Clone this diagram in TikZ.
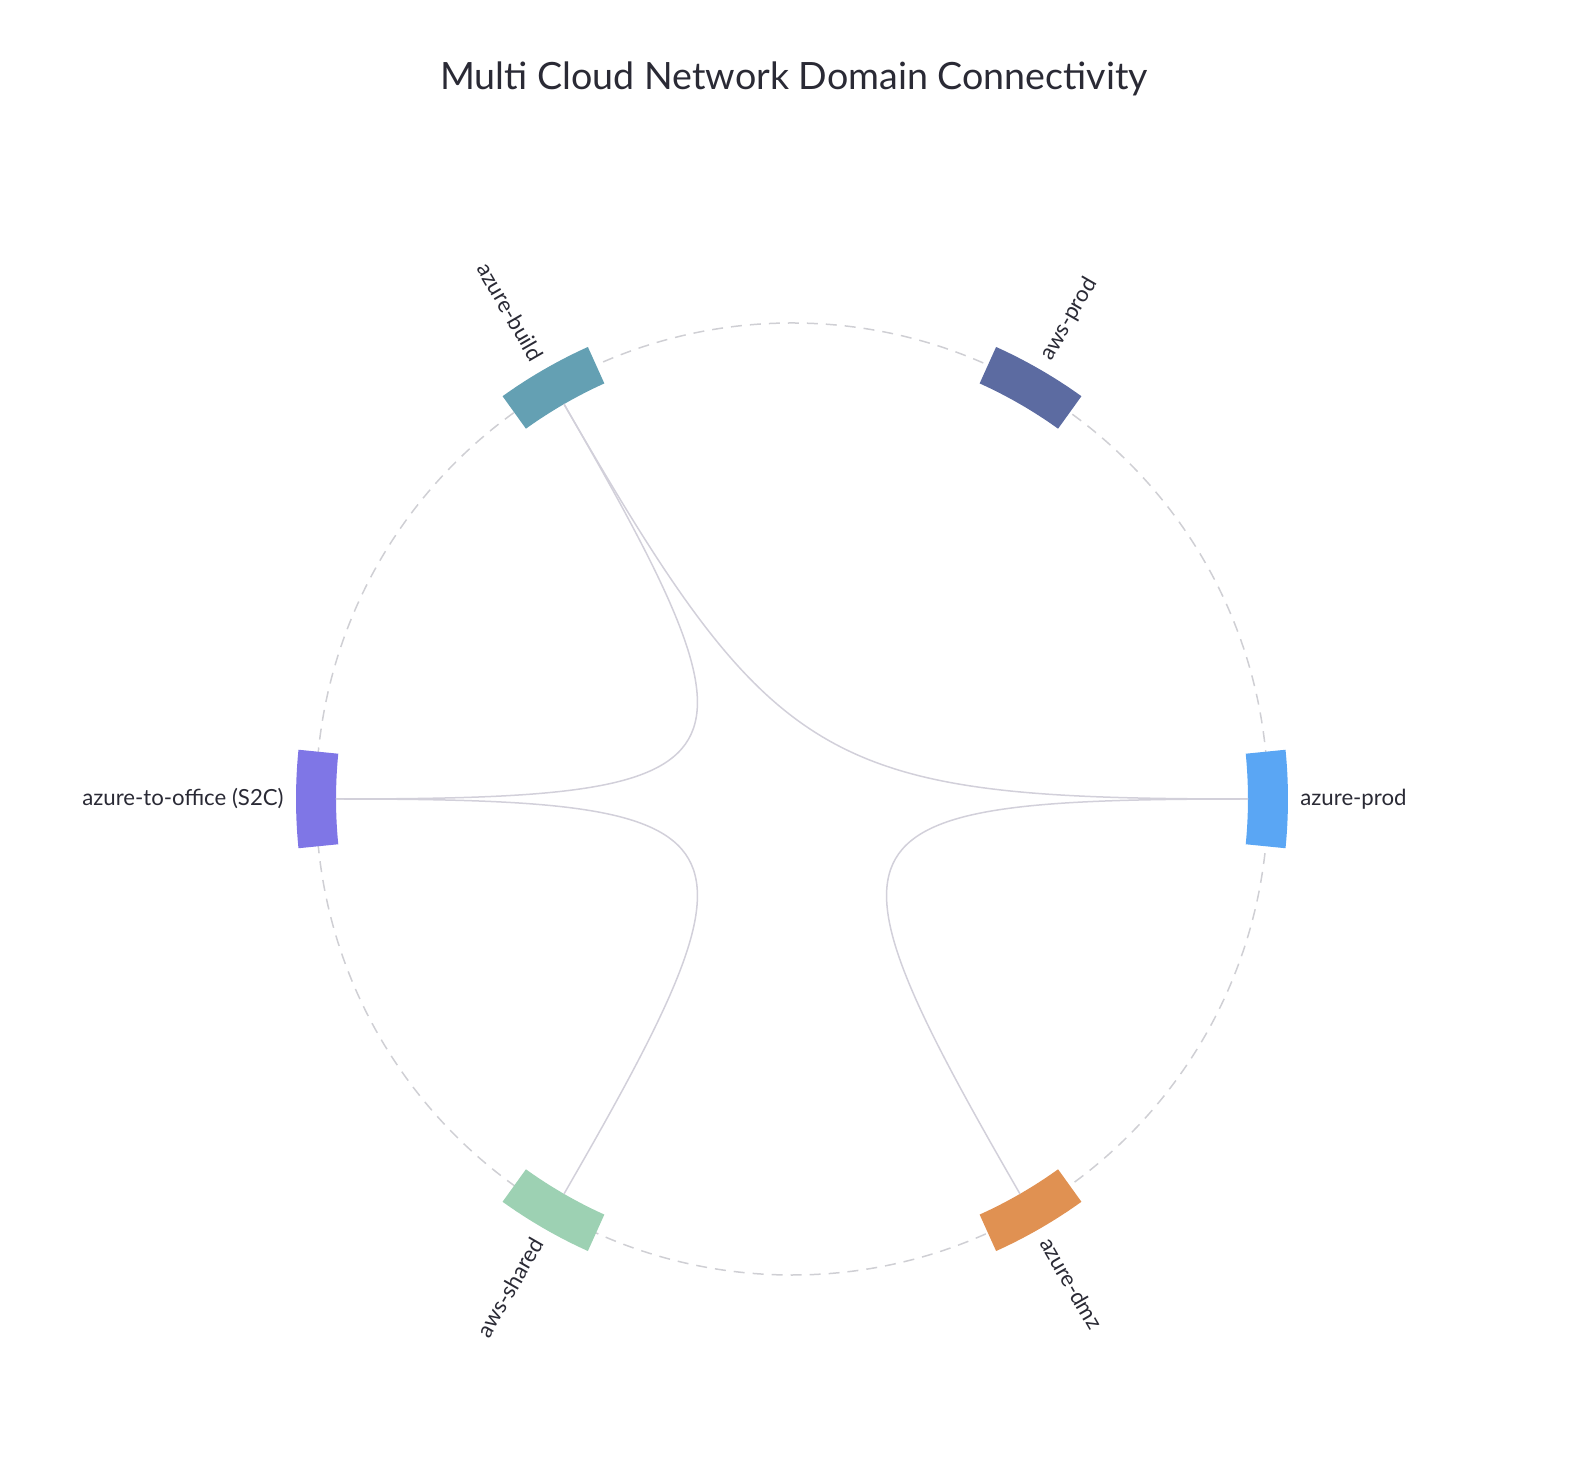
\documentclass[tikz,border=0pt]{standalone}
\usepackage{fontspec}
\setmainfont{Lato}

\definecolor{buildteal}{HTML}{64A0B3}
\definecolor{awsprodblue}{HTML}{5C6BA1}
\definecolor{azprodblue}{HTML}{5AA6F4}
\definecolor{officeviolet}{HTML}{7F76E6}
\definecolor{sharedgreen}{HTML}{9DD1B3}
\definecolor{dmzorange}{HTML}{E09152}
\definecolor{chordgray}{HTML}{D2D0DA}
\definecolor{ringgray}{HTML}{CFCFD4}
\definecolor{labelgray}{HTML}{2A2A35}

\begin{document}
\begin{tikzpicture}[
x=0.5pt, y=0.5pt,
chord/.style={draw=chordgray, line width=0.75pt},
ring/.style={draw=ringgray, line width=0.75pt, dash pattern=on 5.5pt off 4pt},
lbl/.style={font=\fontsize{11.1}{13}\selectfont, text=labelgray, inner sep=0pt},
heading/.style={font=\fontsize{18.8}{22}\selectfont, text=labelgray, inner sep=0pt}
]
\useasboundingbox (-792,-683) rectangle (792,799);

\coordinate (c) at (0,0);
\draw[ring] (c) circle[radius=476];

\fill[azprodblue] (-5.7:456) arc[start angle=-5.7, end angle=5.7, radius=456] -- (5.7:496) arc[start angle=5.7, end angle=-5.7, radius=496] -- cycle;
\fill[awsprodblue] (54.3:456) arc[start angle=54.3, end angle=65.7, radius=456] -- (65.7:496) arc[start angle=65.7, end angle=54.3, radius=496] -- cycle;
\fill[buildteal] (114.3:456) arc[start angle=114.3, end angle=125.7, radius=456] -- (125.7:496) arc[start angle=125.7, end angle=114.3, radius=496] -- cycle;
\fill[officeviolet] (174.3:456) arc[start angle=174.3, end angle=185.7, radius=456] -- (185.7:496) arc[start angle=185.7, end angle=174.3, radius=496] -- cycle;
\fill[sharedgreen] (234.3:456) arc[start angle=234.3, end angle=245.7, radius=456] -- (245.7:496) arc[start angle=245.7, end angle=234.3, radius=496] -- cycle;
\fill[dmzorange] (294.3:456) arc[start angle=294.3, end angle=305.7, radius=456] -- (305.7:496) arc[start angle=305.7, end angle=294.3, radius=496] -- cycle;

\coordinate (azprod) at (0:456);
\coordinate (build) at (120:456);
\coordinate (office) at (180:456);
\coordinate (shared) at (240:456);
\coordinate (dmz) at (300:456);

\coordinate (azprodc) at (0:32);
\coordinate (buildc) at (120:32);
\coordinate (officec) at (180:32);
\coordinate (sharedc) at (240:32);
\coordinate (dmzc) at (300:32);

\draw[chord] (build) .. controls (buildc) and (officec) .. (office);
\draw[chord] (build) .. controls (buildc) and (azprodc) .. (azprod);
\draw[chord] (office) .. controls (officec) and (sharedc) .. (shared);
\draw[chord] (azprod) .. controls (azprodc) and (dmzc) .. (dmz);

\node[lbl, anchor=west] (lazprod) at (0:508) {azure-prod};
\node[lbl, anchor=west, rotate=60] (lawsprod) at (60:508) {aws-prod};
\node[lbl, anchor=east, rotate=-60] (lbuild) at (120:508) {azure-build};
\node[lbl, anchor=east] (loffice) at (180:508) {azure-to-office (S2C)};
\node[lbl, anchor=east, rotate=60] (lshared) at (240:508) {aws-shared};
\node[lbl, anchor=west, rotate=-60] (ldmz) at (300:508) {azure-dmz};

\node[heading, anchor=base] (title) at (2,709) {Multi Cloud Network Domain Connectivity};
\end{tikzpicture}
\end{document}
